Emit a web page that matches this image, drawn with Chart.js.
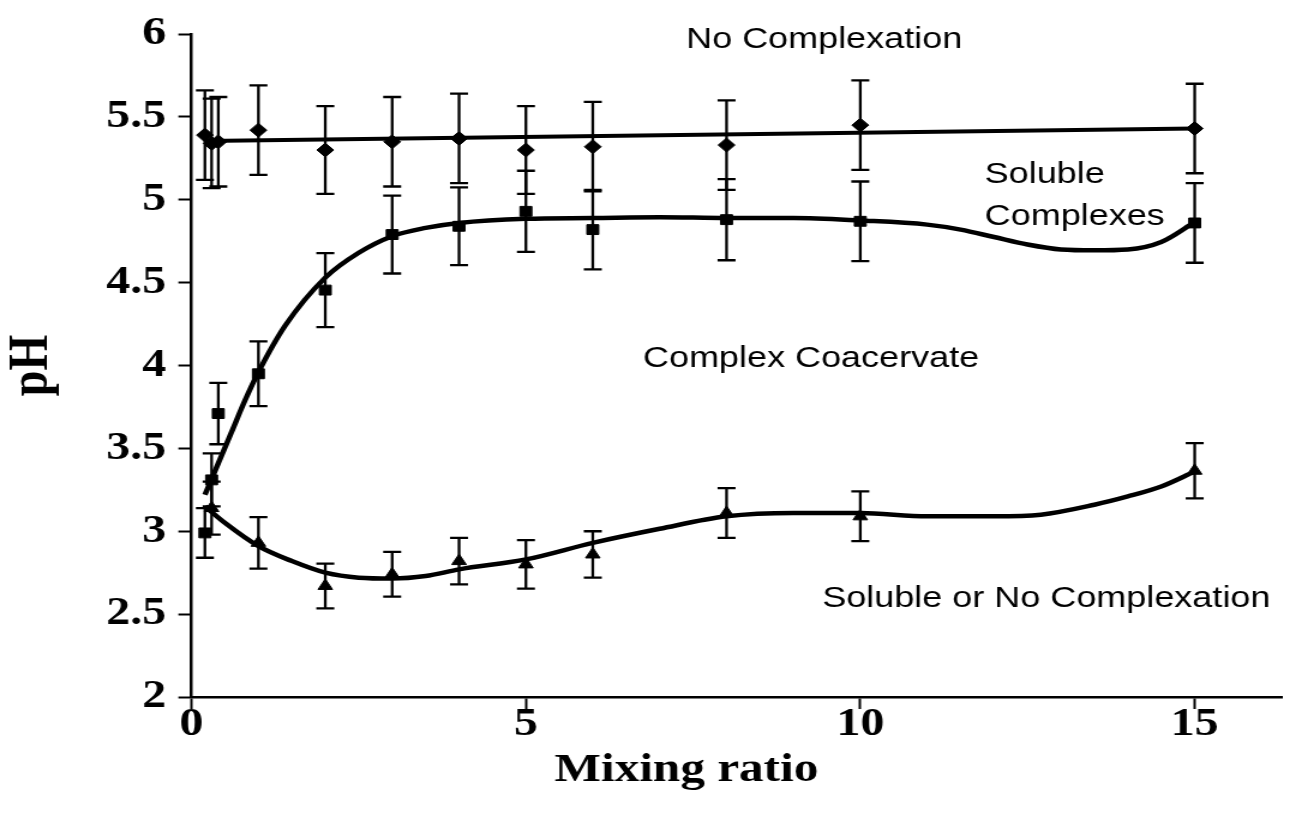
<!DOCTYPE html>
<html><head><meta charset="utf-8">
<script src="https://cdn.jsdelivr.net/npm/chart.js@4.4.1/dist/chart.umd.min.js"></script>
<style>
html,body{margin:0;padding:0;background:#fff;overflow:hidden;width:1291px;height:813px;}
#wrap{position:absolute;left:0;top:0;width:1076px;height:813px;transform:scaleX(1.2);transform-origin:0 0;}
</style></head><body>
<div id="wrap"><canvas id="c"></canvas></div>
<script>
// ---- data ----
const mixRatio = [0.2, 0.3, 0.4, 1, 2, 3, 4, 5, 6, 8, 10, 15];
const noComplexPH = [5.39, 5.34, 5.35, 5.42, 5.30, 5.35, 5.37, 5.30, 5.32, 5.33, 5.45, 5.43];
const noComplexErr = [0.27, 0.27, 0.27, 0.27, 0.265, 0.27, 0.27, 0.265, 0.27, 0.27, 0.27, 0.27];

const coacUpperPH = [2.99, 3.31, 3.71, 3.95, 4.455, 4.79, 4.84, 4.93, 4.82, 4.88, 4.87, 4.86];
const coacUpperErr = [0.15, 0.16, 0.185, 0.195, 0.223, 0.235, 0.235, 0.245, 0.24, 0.245, 0.24, 0.24];

const triRatio = [0.3, 1, 2, 3, 4, 5, 6, 8, 10, 15];
const coacLowerPH = [3.14, 2.93, 2.67, 2.74, 2.82, 2.80, 2.86, 3.11, 3.09, 3.365];
const coacLowerErr = [0.16, 0.155, 0.135, 0.135, 0.14, 0.146, 0.14, 0.15, 0.15, 0.167];

// trend lines
const trendTopX = [0.2, 15];
const trendTopY = [5.355, 5.43];
const trendMidX = [0.2, 0.4, 0.6, 0.8, 1.0, 1.4, 2.0, 2.5, 3.0, 3.5, 4.0, 5, 6, 7, 8, 9, 10, 11, 11.5, 12, 12.5, 13, 13.5, 14, 14.5, 15];
const trendMidY = [3.22, 3.41, 3.60, 3.79, 3.96, 4.24, 4.53, 4.68, 4.78, 4.83, 4.86, 4.885, 4.89, 4.895, 4.89, 4.89, 4.875, 4.85, 4.82, 4.775, 4.73, 4.70, 4.695, 4.70, 4.745, 4.865];
const trendLowX = [0.2, 0.5, 1.0, 1.5, 2.0, 2.5, 3.0, 3.5, 4.0, 5.0, 6.0, 7.0, 8.0, 9.0, 10.0, 11, 12, 12.7, 13.5, 14, 14.5, 15];
const trendLowY = [3.15, 3.05, 2.91, 2.82, 2.75, 2.72, 2.715, 2.73, 2.77, 2.83, 2.93, 3.015, 3.09, 3.11, 3.11, 3.09, 3.09, 3.10, 3.16, 3.21, 3.27, 3.36];

const xTickStep = 5;
const yTickStep = 0.5;
const xTitle = 'Mixing ratio';
const yTitle = 'pH';

const pts = (xs, ys) => xs.map((x, i) => ({x: x, y: ys[i]}));
const serif = '"Liberation Serif", "Times New Roman", serif';

const errorBars = {
  id: 'errorBars',
  afterDatasetsDraw(chart) {
    const ctx = chart.ctx, xs = chart.scales.x, ys = chart.scales.y;
    ctx.save();
    ctx.strokeStyle = '#000';
    ctx.lineWidth = 2.3;
    chart.data.datasets.forEach(ds => {
      if (!ds.errors) return;
      ds.data.forEach((p, i) => {
        const e = ds.errors[i];
        const px = xs.getPixelForValue(p.x);
        const t = ys.getPixelForValue(p.y + e), b = ys.getPixelForValue(p.y - e);
        ctx.beginPath();
        ctx.moveTo(px, t); ctx.lineTo(px, b);
        ctx.moveTo(px - 7.5, t); ctx.lineTo(px + 7.5, t);
        ctx.moveTo(px - 7.5, b); ctx.lineTo(px + 7.5, b);
        ctx.stroke();
      });
    });
    ctx.restore();
  }
};

const regionLabels = {
  id: 'regionLabels',
  afterDraw(chart) {
    const ctx = chart.ctx, xs = chart.scales.x, ys = chart.scales.y;
    const items = [
      {t: 'No Complexation', x: 9.46, y: 5.964, a: 'center'},
      {t: 'Soluble', x: 11.86, y: 5.153, a: 'left'},
      {t: 'Complexes', x: 11.86, y: 4.895, a: 'left'},
      {t: 'Complex Coacervate', x: 6.75, y: 4.04, a: 'left'},
      {t: 'Soluble or No Complexation', x: 9.43, y: 2.595, a: 'left'}
    ];
    ctx.save();
    ctx.fillStyle = '#000';
    ctx.font = '30px "Liberation Sans", Arial, sans-serif';
    ctx.textBaseline = 'middle';
    items.forEach(it => {
      ctx.textAlign = it.a;
      ctx.fillText(it.t, xs.getPixelForValue(it.x), ys.getPixelForValue(it.y));
    });
    // x-axis title (placed as in the reference, left of the plot centre)
    ctx.font = 'bold 41px ' + serif;
    ctx.textAlign = 'center';
    ctx.textBaseline = 'middle';
    ctx.fillText(xTitle, xs.getPixelForValue(7.4), 770);
    ctx.restore();
  }
};

const tickFont = {family: serif, size: 40, weight: 'bold'};

new Chart(document.getElementById('c'), {
  type: 'scatter',
  data: {
    datasets: [
      {type: 'line', data: pts(trendTopX, trendTopY), borderColor: '#000', borderWidth: 4, pointRadius: 0, fill: false},
      {type: 'line', data: pts(trendMidX, trendMidY), borderColor: '#000', borderWidth: 4.5, pointRadius: 0, fill: false, cubicInterpolationMode: 'monotone'},
      {type: 'line', data: pts(trendLowX, trendLowY), borderColor: '#000', borderWidth: 4.5, pointRadius: 0, fill: false, cubicInterpolationMode: 'monotone'},
      {label: 'No Complexation', data: pts(mixRatio, noComplexPH), errors: noComplexErr, pointStyle: 'rectRot', pointRadius: 7, backgroundColor: '#000', borderColor: '#000'},
      {label: 'Coacervate upper', data: pts(mixRatio, coacUpperPH), errors: coacUpperErr, pointStyle: 'rect', pointRadius: 7, backgroundColor: '#000', borderColor: '#000'},
      {label: 'Coacervate lower', data: pts(triRatio, coacLowerPH), errors: coacLowerErr, pointStyle: 'triangle', pointRadius: 7, backgroundColor: '#000', borderColor: '#000'}
    ]
  },
  options: {
    responsive: true,
    maintainAspectRatio: false,
    animation: false,
    layout: {padding: {top: 31, right: 0, bottom: 0, left: 0}},
    plugins: {legend: {display: false}, tooltip: {enabled: false}},
    scales: {
      x: {
        type: 'linear', min: 0, max: 16.3,
        afterFit(s) { s.height = 116; },
        border: {color: '#000', width: 2.5},
        grid: {drawOnChartArea: false, drawTicks: true, tickLength: 12, tickColor: '#000', tickWidth: 2},
        ticks: {stepSize: xTickStep, includeBounds: false, color: '#000', font: tickFont, padding: -8, maxRotation: 0,
                callback: v => String(Number(v.toFixed(2)))},
        title: {display: false}
      },
      y: {
        type: 'linear', min: 2, max: 6,
        afterFit(s) { s.width = 159.6; },
        border: {color: '#000', width: 2.5},
        grid: {drawOnChartArea: false, drawTicks: true, tickLength: 11, tickColor: '#000', tickWidth: 2},
        ticks: {stepSize: yTickStep, color: '#000', font: tickFont, padding: 10,
                callback: v => String(Number(v.toFixed(2)))},
        title: {display: true, text: yTitle, color: '#000', font: {family: serif, size: 46, weight: 'bold'}, padding: {top: 0, bottom: 0}}
      }
    }
  },
  plugins: [errorBars, regionLabels]
});
</script>
</body></html>
